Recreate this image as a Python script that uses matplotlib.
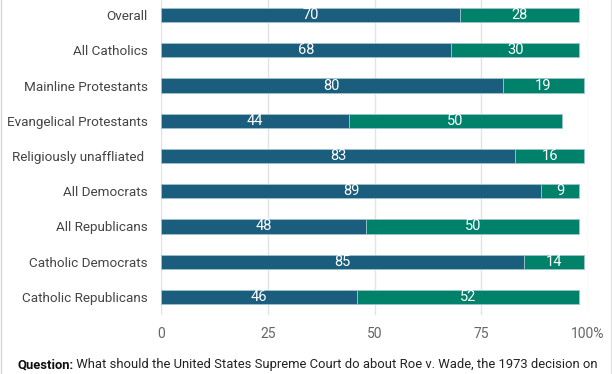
import matplotlib
matplotlib.use("Agg")
import matplotlib.pyplot as plt
import numpy as np

plt.rcParams['font.family'] = ['Roboto', 'DejaVu Sans']

groups = ["Overall", "All Catholics", "Mainline Protestants", "Evangelical Protestants",
          "Religiously unaffliated ", "All Democrats", "All Republicans",
          "Catholic Democrats", "Catholic Republicans"]
keep = [70, 68, 80, 44, 83, 89, 48, 85, 46]
overturn = [28, 30, 19, 50, 16, 9, 50, 14, 52]
xticks = [0, 25, 50, 75, 100]
xticklabels = ["0", "25", "50", "75", "100%"]
question = "What should the United States Supreme Court do about Roe v. Wade, the 1973 decision on"

blue = "#1b5d7c"
green = "#00816a"

fig = plt.figure(figsize=(6.12, 3.74), dpi=100)
ax = fig.add_axes([161 / 612, 1 - 314.6 / 374, 427 / 612, 317.2 / 374])

y = np.arange(len(groups))
h = 0.4
ax.barh(y, keep, height=h, color=blue, edgecolor="#9cc3cf", linewidth=0.6, zorder=3)
ax.barh(y, overturn, left=keep, height=h, color=green, edgecolor="#9cc3cf", linewidth=0.6, zorder=3)

for i in range(len(groups)):
    ax.text(keep[i] / 2, y[i], str(keep[i]), color="white", ha="center", va="center",
            fontsize=10.5, zorder=4)
    ax.text(keep[i] + overturn[i] / 2, y[i], str(overturn[i]), color="white", ha="center",
            va="center", fontsize=10.5, zorder=4)

ax.set_xlim(0, 100)
ax.set_ylim(len(groups) - 0.5, -0.5)
ax.set_xticks(xticks)
ax.set_xticklabels(xticklabels)
ax.set_yticks(y)
ax.set_yticklabels(groups)
ax.tick_params(axis="both", length=0)
ax.tick_params(axis="y", pad=9.5, labelsize=9.7, labelcolor="#444444")
ax.tick_params(axis="x", pad=9, labelsize=10, labelcolor="#666666")
ax.grid(axis="x", color="#e3e3e3", linewidth=1, zorder=0)
for s in ax.spines.values():
    s.set_visible(False)

# container borders
fig.add_artist(plt.Line2D([0.002, 0.002], [0, 1], color="#d8d8d8", linewidth=1))
fig.add_artist(plt.Line2D([0.998, 0.998], [0, 1], color="#e4e4e4", linewidth=1))

q = fig.text(17 / 612, 1 - 368 / 374, "Question:", fontsize=9.4, fontweight="bold",
             color="#111111", va="baseline")
fig.canvas.draw()
ax.annotate(" " + question, xy=(1, 0), xycoords=q, ha="left", va="bottom",
            fontsize=9.4, color="#222222")

fig.savefig("out.png", dpi=100)
